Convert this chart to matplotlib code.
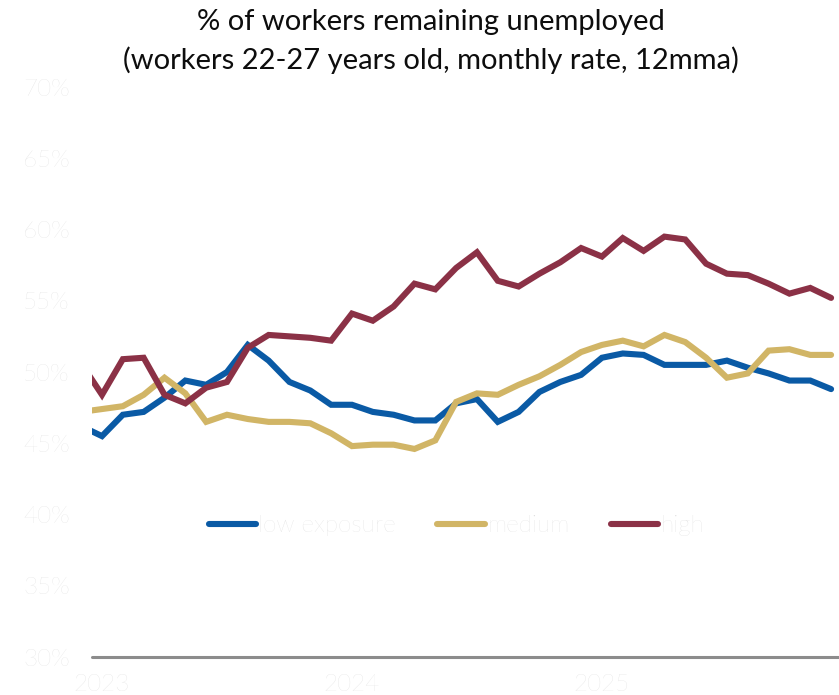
import matplotlib
matplotlib.use("Agg")
import matplotlib.pyplot as plt
from matplotlib.ticker import FixedLocator, FuncFormatter

plt.rcParams['font.family'] = ['Lato', 'DejaVu Sans']

# Monthly series, Dec 2022 .. Dec 2025 (month index -1 .. 35, Jan 2023 = 0)
months = list(range(-1, 36))

low_exposure = [46.2, 45.5, 47.0, 47.2, 48.2, 49.4, 49.1, 50.0, 51.9, 50.8,
                49.3, 48.7, 47.7, 47.7, 47.2, 47.0, 46.6, 46.6, 47.8, 48.1,
                46.5, 47.2, 48.6, 49.3, 49.8, 51.0, 51.3, 51.2, 50.5, 50.5,
                50.5, 50.8, 50.3, 49.9, 49.4, 49.4, 48.8]
medium = [47.2, 47.4, 47.6, 48.4, 49.6, 48.5, 46.5, 47.0, 46.7, 46.5,
          46.5, 46.4, 45.7, 44.8, 44.9, 44.9, 44.6, 45.2, 47.9, 48.5,
          48.4, 49.1, 49.7, 50.5, 51.4, 51.9, 52.2, 51.8, 52.6, 52.1,
          51.0, 49.6, 49.9, 51.5, 51.6, 51.2, 51.2]
high = [50.6, 48.4, 50.9, 51.0, 48.4, 47.8, 48.9, 49.3, 51.7, 52.6,
        52.5, 52.4, 52.2, 54.1, 53.6, 54.6, 56.2, 55.8, 57.3, 58.4,
        56.4, 56.0, 56.9, 57.7, 58.7, 58.1, 59.4, 58.5, 59.5, 59.3,
        57.6, 56.9, 56.8, 56.2, 55.5, 55.9, 55.2]

series_names = ['low exposure', 'medium', 'high']
series_values = [low_exposure, medium, high]
series_colors = ['#0a5aa5', '#d1b566', '#8b3146']

year_ticks = [0, 12, 24]
year_labels = ['2023', '2024', '2025']
y_ticks = [30, 35, 40, 45, 50, 55, 60, 65, 70]

fig = plt.figure(figsize=(8.39, 6.95), dpi=100)
ax = fig.add_axes([92 / 839, 1 - 657 / 695, 1 - 92 / 839, (657 - 87) / 695])

for name, vals, col in zip(series_names, series_values, series_colors):
    ax.plot(months, vals, color=col, lw=4.4, label=name,
            solid_capstyle='round', solid_joinstyle='miter')

ax.set_xlim(-0.48, 35.38)
ax.set_ylim(30, 70)

for side in ['top', 'right', 'left']:
    ax.spines[side].set_visible(False)
ax.spines['bottom'].set_color('#8c8c8c')
ax.spines['bottom'].set_linewidth(2.2)
ax.spines['bottom'].set_capstyle('round')

ax.yaxis.set_major_locator(FixedLocator(y_ticks))
ax.yaxis.set_major_formatter(FuncFormatter(lambda v, p: f'{v:.0f}%'))
ax.xaxis.set_major_locator(FixedLocator(year_ticks))
ax.set_xticklabels(year_labels)
ax.tick_params(axis='both', length=0, labelcolor='#dcdcdc', labelsize=17.5)
ax.tick_params(axis='y', pad=16)
ax.tick_params(axis='x', pad=12)
for lab in ax.get_xticklabels() + ax.get_yticklabels():
    lab.set_fontweight('light')

leg = ax.legend(loc='center', bbox_to_anchor=(0.488, 0.23), ncol=3,
                frameon=False, handlelength=1.95, handletextpad=0.1,
                columnspacing=1.7,
                prop={'weight': 'light', 'size': 17.5})
for t in leg.get_texts():
    t.set_color('#dcdcdc')
for h in leg.get_lines():
    h.set_solid_capstyle('round')

title_lines = ['% of workers remaining unemployed',
               '(workers 22-27 years old, monthly rate, 12mma)']
for line, ypix in zip(title_lines, [22, 60]):
    fig.text(431 / 839, 1 - ypix / 695, line, ha='center', va='center',
             fontsize=21, fontweight='normal', color='#0d0d0d')

fig.savefig('out.png', dpi=100)
